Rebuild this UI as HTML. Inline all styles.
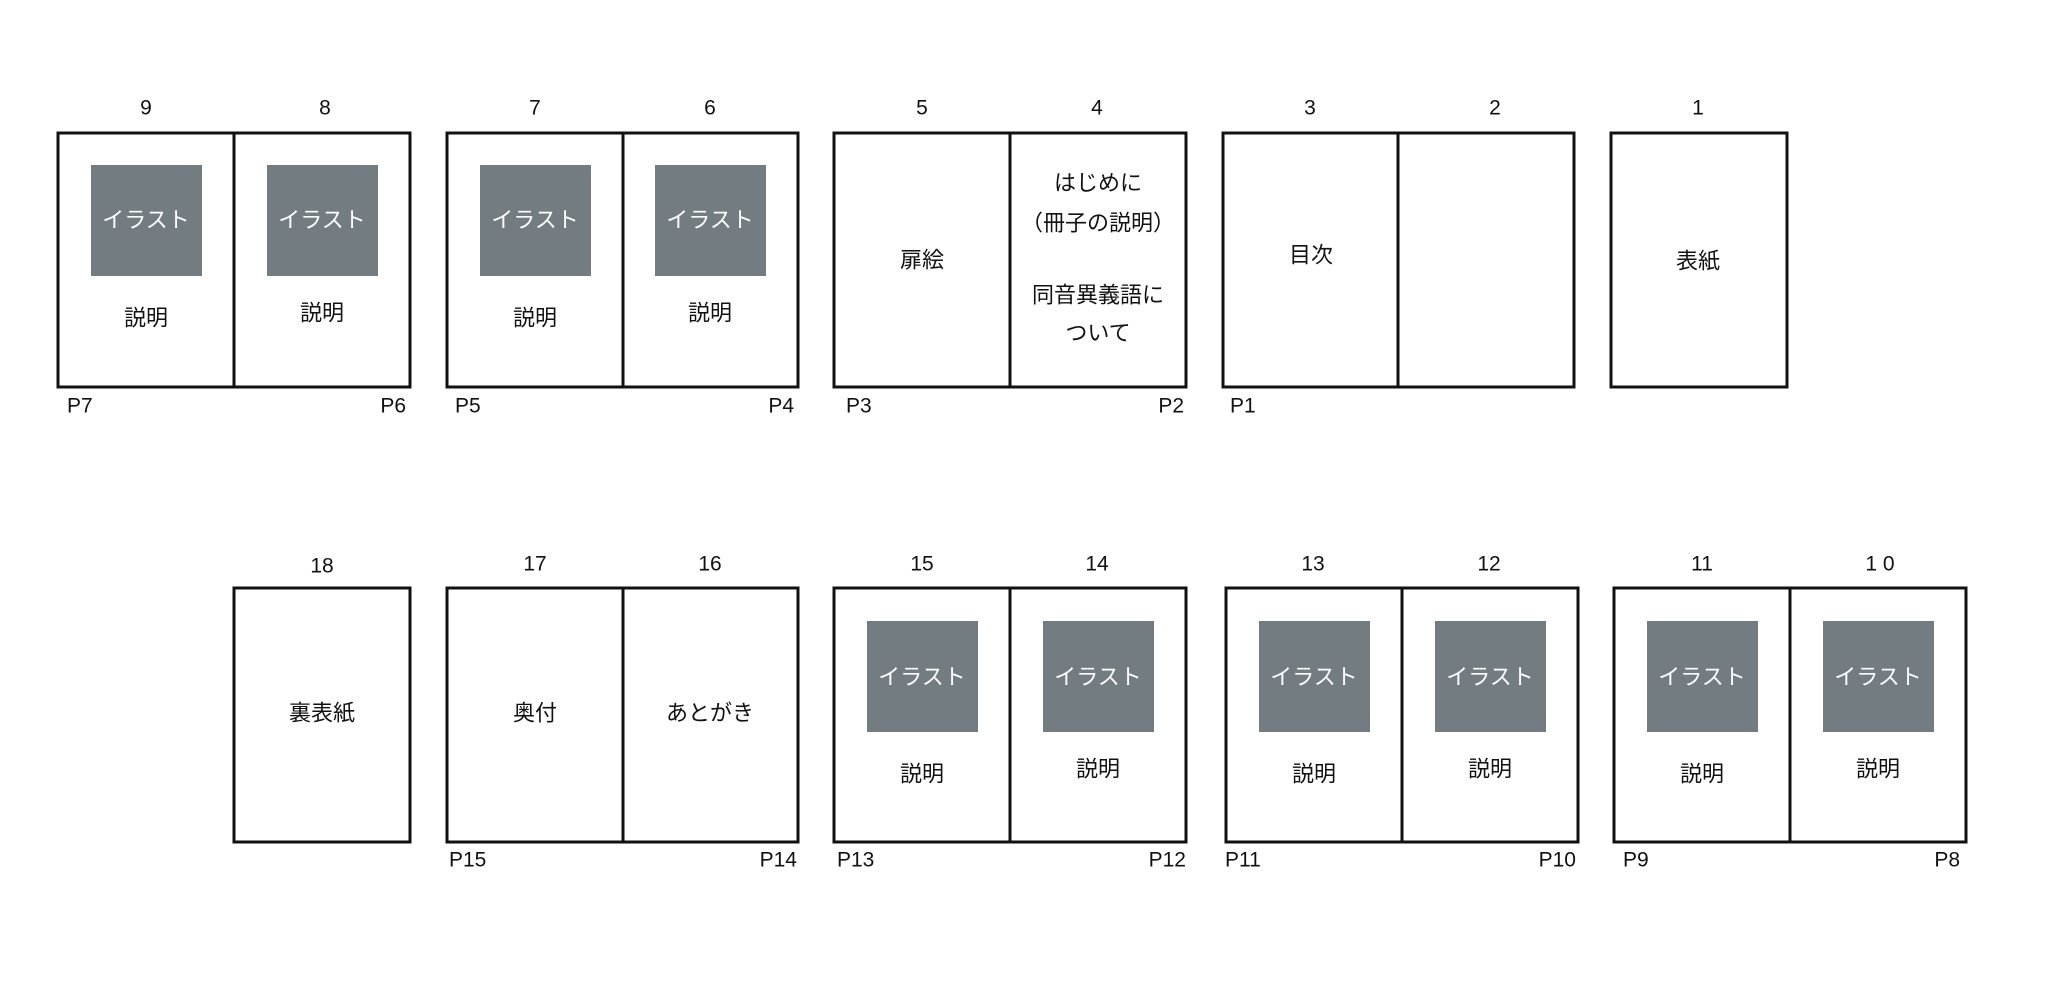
<!DOCTYPE html>
<html><head><meta charset="utf-8"><style>
html,body{margin:0;padding:0;background:#fff;}
svg{display:block;}
text{font-family:"Liberation Sans","Noto Sans CJK JP",sans-serif;font-size:21px;fill:#111;dominant-baseline:central;}
.c{text-anchor:middle;}
.e{text-anchor:end;}
.w{fill:#fff;font-size:22px;}
.j{font-size:22px;}
rect.b{fill:none;stroke:#111;stroke-width:3;}
rect.g{fill:#737c80;}
line{stroke:#111;stroke-width:3;}
</style></head><body>
<svg width="2060" height="988" viewBox="0 0 2060 988" xmlns="http://www.w3.org/2000/svg">
<!-- TOP ROW -->
<rect class="b" x="58" y="133" width="352" height="254"/><line x1="234" y1="133" x2="234" y2="387"/>
<rect class="b" x="447" y="133" width="351" height="254"/><line x1="623" y1="133" x2="623" y2="387"/>
<rect class="b" x="834" y="133" width="352" height="254"/><line x1="1010" y1="133" x2="1010" y2="387"/>
<rect class="b" x="1223" y="133" width="351" height="254"/><line x1="1398" y1="133" x2="1398" y2="387"/>
<rect class="b" x="1611" y="133" width="176" height="254"/>

<rect class="g" x="91" y="165" width="111" height="111"/><text class="c w" x="146" y="220">イラスト</text>
<rect class="g" x="267" y="165" width="111" height="111"/><text class="c w" x="322" y="220">イラスト</text>
<rect class="g" x="480" y="165" width="111" height="111"/><text class="c w" x="535" y="220">イラスト</text>
<rect class="g" x="655" y="165" width="111" height="111"/><text class="c w" x="710" y="220">イラスト</text>
<text class="c j" x="146" y="318">説明</text><text class="c j" x="322" y="313">説明</text>
<text class="c j" x="535" y="318">説明</text><text class="c j" x="710" y="313">説明</text>
<text class="c j" x="922" y="260">扉絵</text>
<text class="c j" x="1098" y="183">はじめに</text>
<text class="c j" x="1098" y="223">（冊子の説明）</text>
<text class="c j" x="1098" y="295">同音異義語に</text>
<text class="c j" x="1098" y="333">ついて</text>
<text class="c j" x="1311" y="255">目次</text>
<text class="c j" x="1698" y="261">表紙</text>

<text class="c" x="146" y="108">9</text><text class="c" x="325" y="108">8</text>
<text class="c" x="535" y="108">7</text><text class="c" x="710" y="108">6</text>
<text class="c" x="922" y="108">5</text><text class="c" x="1097" y="108">4</text>
<text class="c" x="1310" y="108">3</text><text class="c" x="1495" y="108">2</text>
<text class="c" x="1698" y="108">1</text>

<text x="67" y="406">P7</text><text class="e" x="406" y="406">P6</text>
<text x="455" y="406">P5</text><text class="e" x="794" y="406">P4</text>
<text x="846" y="406">P3</text><text class="e" x="1184" y="406">P2</text>
<text x="1230" y="406">P1</text>

<!-- BOTTOM ROW -->
<rect class="b" x="234" y="588" width="176" height="254"/>
<rect class="b" x="447" y="588" width="351" height="254"/><line x1="623" y1="588" x2="623" y2="842"/>
<rect class="b" x="834" y="588" width="352" height="254"/><line x1="1010" y1="588" x2="1010" y2="842"/>
<rect class="b" x="1226" y="588" width="352" height="254"/><line x1="1402" y1="588" x2="1402" y2="842"/>
<rect class="b" x="1614" y="588" width="352" height="254"/><line x1="1790" y1="588" x2="1790" y2="842"/>

<text class="c j" x="322" y="713">裏表紙</text>
<text class="c j" x="535" y="713">奥付</text>
<text class="c j" x="710" y="713">あとがき</text>

<rect class="g" x="867" y="621" width="111" height="111"/><text class="c w" x="922" y="677">イラスト</text>
<rect class="g" x="1043" y="621" width="111" height="111"/><text class="c w" x="1098" y="677">イラスト</text>
<rect class="g" x="1259" y="621" width="111" height="111"/><text class="c w" x="1314" y="677">イラスト</text>
<rect class="g" x="1435" y="621" width="111" height="111"/><text class="c w" x="1490" y="677">イラスト</text>
<rect class="g" x="1647" y="621" width="111" height="111"/><text class="c w" x="1702" y="677">イラスト</text>
<rect class="g" x="1823" y="621" width="111" height="111"/><text class="c w" x="1878" y="677">イラスト</text>
<text class="c j" x="922" y="774">説明</text><text class="c j" x="1098" y="769">説明</text>
<text class="c j" x="1314" y="774">説明</text><text class="c j" x="1490" y="769">説明</text>
<text class="c j" x="1702" y="774">説明</text><text class="c j" x="1878" y="769">説明</text>

<text class="c" x="322" y="566">18</text>
<text class="c" x="535" y="564">17</text><text class="c" x="710" y="564">16</text>
<text class="c" x="922" y="564">15</text><text class="c" x="1097" y="564">14</text>
<text class="c" x="1313" y="564">13</text><text class="c" x="1489" y="564">12</text>
<text class="c" x="1702" y="564">11</text><text class="c" x="1880" y="564">1 0</text>

<text x="449" y="860">P15</text><text class="e" x="797" y="860">P14</text>
<text x="837" y="860">P13</text><text class="e" x="1186" y="860">P12</text>
<text x="1225" y="860">P11</text><text class="e" x="1576" y="860">P10</text>
<text x="1623" y="860">P9</text><text class="e" x="1960" y="860">P8</text>
</svg>
</body></html>
